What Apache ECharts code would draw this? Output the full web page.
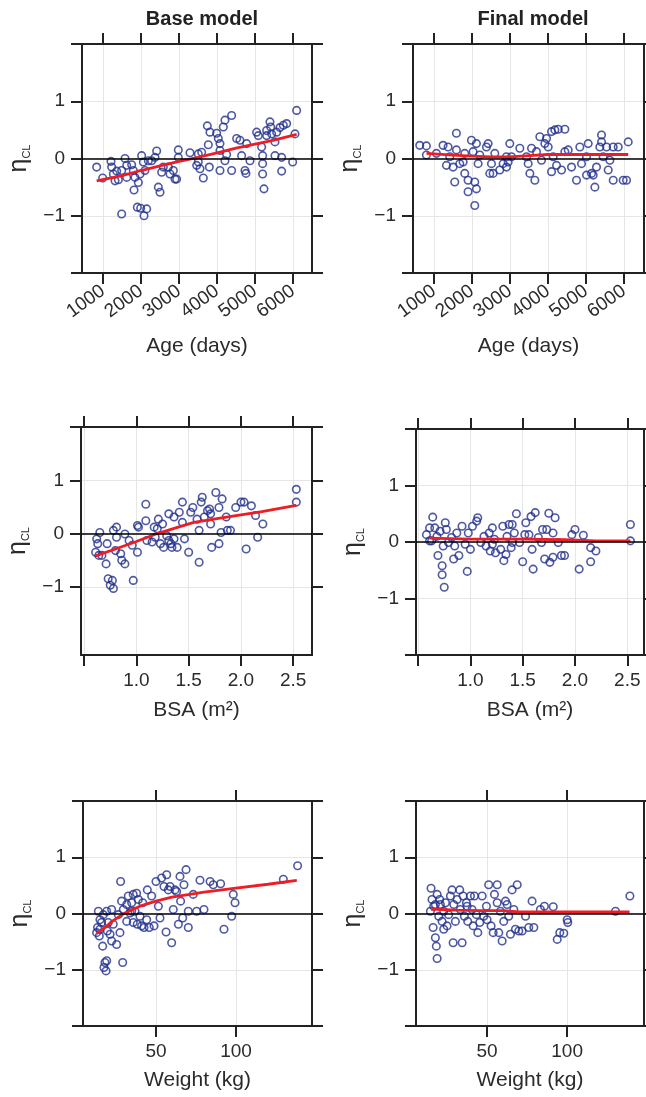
<!DOCTYPE html>
<html><head><meta charset="utf-8">
<script src="https://cdn.jsdelivr.net/npm/echarts@6/dist/echarts.min.js"></script>
<style>html,body{margin:0;padding:0;background:#fff}#c{width:646px;height:1097px}</style>
</head><body><div id="c"></div>
<script>
// ---- data ----
const ageBase = [[833,-0.15],[991,-0.34],[1210,-0.05],[1228,-0.15],[1272,-0.27],[1316,-0.39],[1404,-0.37],[1491,-0.21],[1579,0.0],[1623,-0.12],[1754,-0.11],[1798,-0.21],[1842,-0.33],[1816,-0.55],[1930,-0.42],[2017,0.05],[2061,-0.06],[2105,-0.21],[1974,-0.27],[1903,-0.85],[1991,-0.87],[2079,-1.0],[2149,-0.88],[1491,-0.97],[2193,-0.04],[2281,-0.04],[2412,0.13],[2368,0.02],[2456,-0.50],[2500,-0.59],[2544,-0.24],[2719,-0.15],[2851,-0.21],[2895,-0.36],[2938,-0.36],[2982,0.15],[2982,0.02],[2763,-0.27],[3289,0.10],[3508,0.08],[3508,-0.06],[3552,-0.18],[3640,-0.34],[3596,0.11],[3771,0.24],[3745,0.57],[3815,0.46],[3798,-0.15],[3991,0.44],[4034,0.35],[4078,0.26],[4078,-0.21],[4166,0.55],[4209,0.67],[4385,0.75],[4078,0.14],[4209,-0.04],[4253,0.07],[4385,-0.21],[4517,0.35],[4604,0.32],[4648,0.05],[4736,-0.21],[4762,-0.26],[4868,-0.04],[4780,0.26],[5043,0.46],[5087,0.40],[5175,0.20],[5201,0.05],[5201,-0.09],[5201,-0.27],[5236,-0.53],[5306,0.40],[5394,0.64],[5412,0.55],[5438,0.43],[5526,0.29],[5570,0.46],[5657,0.54],[5745,0.58],[5833,0.61],[5701,0.02],[5701,-0.22],[5526,0.05],[5991,-0.06],[6052,0.43],[6096,0.84],[5306,0.49],[3465,-0.12],[2587,-0.15],[1360,-0.22],[1623,-0.33]];
const ageBaseFit = [[833,-0.39],[1500,-0.30],[2000,-0.21],[2500,-0.13],[3000,-0.05],[3500,0.02],[4000,0.10],[4500,0.18],[5000,0.25],[5500,0.32],[6096,0.42]];

const ageFinal = [[622,0.23],[798,0.22],[1062,0.09],[1237,0.23],[1325,-0.12],[1369,0.20],[1545,-0.41],[1589,0.44],[1589,0.15],[1677,-0.09],[1808,0.09],[1808,-0.26],[1896,-0.58],[1984,0.32],[2028,0.12],[2072,-0.41],[2116,-0.53],[2072,-0.82],[2116,0.26],[2160,-0.09],[2204,0.06],[2380,0.20],[2424,0.26],[2468,-0.26],[2512,-0.09],[2600,0.09],[2731,-0.20],[2819,-0.09],[2907,-0.15],[2951,-0.06],[2995,0.26],[3039,0.03],[3259,0.18],[3479,-0.09],[3523,-0.26],[3567,0.18],[3655,-0.38],[3698,0.12],[3786,0.38],[3830,-0.03],[3918,0.26],[3962,0.35],[4006,0.20],[4094,0.47],[4182,0.50],[4270,0.51],[4094,-0.23],[4138,0.03],[4226,-0.12],[4358,-0.20],[4445,0.51],[4533,0.15],[4621,-0.15],[4752,-0.38],[4840,0.20],[4884,-0.09],[5016,0.03],[5060,0.26],[5148,-0.26],[5236,-0.50],[5279,-0.15],[5367,0.20],[5411,0.41],[5411,0.29],[5455,0.03],[5543,0.20],[5587,-0.20],[5719,0.20],[5719,-0.38],[5851,0.20],[5982,-0.38],[6070,-0.38],[6114,0.29],[798,0.06],[1413,0.03],[1765,-0.06],[2907,0.03],[2556,-0.26],[3435,0.03],[4445,0.12],[5016,-0.29],[5192,-0.29],[5631,-0.03],[1501,-0.15],[1896,-0.38]];
const ageFinalFit = [[800,0.09],[1500,0.06],[2000,0.04],[2500,0.03],[3000,0.03],[3500,0.05],[4000,0.07],[4500,0.07],[5000,0.07],[5500,0.07],[6114,0.07]];

const bsaBase = [[0.61,-0.35],[0.62,-0.10],[0.63,-0.19],[0.64,-0.41],[0.65,0.02],[0.67,-0.41],[0.71,-0.57],[0.72,-0.19],[0.73,-0.85],[0.75,-0.97],[0.77,-0.88],[0.78,-1.03],[0.78,0.06],[0.80,-0.32],[0.81,-0.07],[0.85,-0.38],[0.86,-0.50],[0.89,-0.57],[0.89,-0.01],[0.93,-0.13],[0.96,-0.22],[0.97,-0.88],[1.01,0.15],[1.01,-0.35],[1.02,0.12],[1.09,0.55],[1.09,0.24],[1.10,-0.13],[1.15,-0.16],[1.17,0.12],[1.18,-0.07],[1.21,0.27],[1.23,-0.19],[1.25,0.18],[1.26,-0.26],[1.29,-0.04],[1.31,0.37],[1.33,-0.19],[1.34,-0.26],[1.36,0.31],[1.39,-0.26],[1.41,0.40],[1.44,0.21],[1.44,0.59],[1.46,-0.10],[1.50,-0.35],[1.52,0.40],[1.54,0.49],[1.58,0.27],[1.60,0.06],[1.60,-0.54],[1.62,0.59],[1.63,0.68],[1.65,0.31],[1.70,0.46],[1.71,0.37],[1.72,-0.26],[1.71,0.18],[1.76,0.77],[1.79,0.49],[1.79,-0.19],[1.81,0.02],[1.82,0.65],[1.86,0.31],[1.87,0.06],[1.90,0.06],[1.95,0.49],[2.00,0.59],[2.03,0.59],[2.05,-0.29],[2.10,0.52],[2.14,0.34],[2.16,-0.07],[2.21,0.18],[2.53,0.83],[2.53,0.59],[0.81,0.12],[1.68,0.43],[1.36,-0.10],[1.20,0.09],[1.31,-0.13]];
const bsaBaseFit = [[0.61,-0.42],[0.8,-0.29],[1.0,-0.15],[1.2,0.0],[1.4,0.12],[1.55,0.21],[1.8,0.29],[2.0,0.35],[2.2,0.41],[2.53,0.53]];

const bsaFinal = [[0.58,0.13],[0.61,0.25],[0.64,0.44],[0.63,0.02],[0.66,0.25],[0.68,0.10],[0.69,-0.24],[0.71,0.19],[0.73,-0.42],[0.73,-0.58],[0.74,-0.07],[0.75,-0.80],[0.76,0.34],[0.77,0.22],[0.79,-0.01],[0.82,0.08],[0.84,-0.30],[0.85,-0.07],[0.87,0.16],[0.89,-0.24],[0.92,0.28],[0.95,-0.04],[0.97,-0.52],[0.98,0.16],[1.00,-0.13],[1.02,0.28],[1.06,0.37],[1.07,0.43],[1.10,-0.01],[1.13,0.10],[1.15,-0.07],[1.18,0.16],[1.19,-0.16],[1.21,0.25],[1.23,0.05],[1.24,-0.19],[1.29,-0.13],[1.31,0.28],[1.32,-0.33],[1.34,-0.22],[1.35,0.10],[1.37,0.31],[1.39,-0.10],[1.40,0.31],[1.42,0.16],[1.44,0.50],[1.47,-0.01],[1.50,-0.35],[1.52,0.13],[1.53,0.34],[1.56,0.13],[1.58,0.45],[1.59,-0.13],[1.60,-0.48],[1.62,0.52],[1.65,0.08],[1.68,-0.01],[1.69,0.22],[1.71,-0.30],[1.73,0.22],[1.75,0.51],[1.76,-0.36],[1.79,-0.27],[1.81,0.43],[1.84,-0.01],[1.87,-0.24],[1.90,-0.24],[1.97,0.13],[2.00,0.22],[2.04,-0.48],[2.08,0.12],[2.15,-0.10],[2.15,-0.35],[2.20,-0.16],[2.53,0.31],[2.53,0.02],[0.61,0.02],[1.40,-0.01],[1.21,-0.04],[1.79,0.16]];
const bsaFinalFit = [[0.61,0.07],[1.0,0.05],[1.5,0.05],[1.9,0.04],[2.2,0.02],[2.53,0.02]];

const wtBase = [[12.9,-0.34],[13.5,-0.25],[14,0.04],[14.6,-0.40],[15,-0.11],[16,-0.16],[16.7,-0.58],[17.1,-0.02],[17.5,-0.96],[18.1,-0.87],[18.8,-1.02],[19.2,-0.84],[19.2,0.04],[19.6,-0.31],[20.2,-0.16],[21.3,-0.37],[22.3,0.07],[22.3,-0.49],[23.3,-0.19],[25.4,-0.55],[26.5,-0.02],[27.5,-0.34],[27.9,0.57],[29.2,-0.87],[28.5,0.22],[29.6,0.07],[31.7,-0.14],[32.7,0.31],[33.8,0.01],[34.8,0.19],[35.8,-0.16],[36.9,0.04],[37.9,0.36],[38.3,-0.19],[39,0.25],[40,-0.05],[41,-0.22],[41.7,0.19],[42.5,-0.25],[44.2,-0.11],[44.6,0.42],[45.8,-0.25],[47.3,0.31],[48.8,-0.22],[50,0.57],[51.5,0.13],[52.5,-0.08],[53.5,0.63],[55,0.48],[56.3,-0.33],[56.7,0.69],[57.7,0.42],[58.8,0.48],[59.8,-0.52],[60.8,0.07],[61.9,0.42],[62.9,0.39],[64,-0.19],[65,0.66],[65.4,0.22],[66.7,-0.08],[67.5,0.51],[68.8,0.78],[70.2,0.04],[70.2,-0.25],[73.3,0.34],[75.4,0.04],[77.5,0.59],[80,0.07],[83.8,0.57],[85.8,0.51],[90.4,0.53],[92.5,-0.28],[97.3,-0.05],[98.3,0.34],[99.4,0.19],[129.6,0.61],[138.5,0.85],[35.8,0.34],[34.8,0.04],[31.7,0.16],[15,-0.28]];
const wtBaseFit = [[12.9,-0.36],[18,-0.25],[23,-0.13],[30,0.0],[40,0.13],[50,0.22],[60,0.29],[80,0.38],[100,0.45],[120,0.52],[138,0.59]];

const wtFinal = [[14.6,0.04],[15,0.45],[15.6,0.25],[16.3,-0.25],[16.7,0.13],[17.7,-0.43],[18.3,-0.58],[18.8,-0.80],[18.8,0.34],[19.8,-0.05],[20.4,0.25],[21.9,-0.14],[22.9,-0.28],[24,0.19],[25,-0.22],[26,-0.02],[27.1,0.31],[28.1,0.42],[28.8,-0.52],[29.2,0.16],[30.2,-0.14],[31.3,0.25],[32.9,0.42],[33.3,0.07],[34.4,-0.52],[35,0.31],[35.8,-0.05],[37.1,0.19],[37.9,-0.14],[39.6,0.31],[40.6,0.07],[41.3,-0.22],[42.1,0.31],[43.3,-0.02],[44.2,-0.34],[45.4,-0.16],[46.9,0.31],[47.9,-0.05],[49.6,0.13],[51,0.51],[52.5,-0.22],[53.8,-0.34],[54.6,0.34],[56.3,0.51],[57.3,-0.34],[58.3,0.04],[59.4,-0.49],[60.4,-0.14],[61.5,0.22],[62.5,0.16],[63.5,-0.05],[64.6,-0.37],[65.6,0.42],[66.7,0.07],[67.7,-0.28],[68.8,0.51],[69.8,-0.31],[71.9,-0.31],[74,-0.05],[76,-0.25],[78.1,0.22],[79.2,-0.25],[83.3,0.07],[85.8,0.13],[91.3,0.12],[93.8,-0.46],[95.4,-0.34],[97.9,-0.35],[100,-0.11],[100.4,-0.16],[130.2,0.04],[139.2,0.31],[20.8,0.16],[22.9,0.04],[37.5,0.13],[50,-0.11],[56.3,0.19],[17.7,0.16]];
const wtFinalFit = [[15,0.08],[30,0.06],[45,0.05],[60,0.05],[70,0.03],[100,0.03],[139,0.03]];

const ageTicks = [1000,2000,3000,4000,5000,6000];
const bsaTicks = [0.5,1.0,1.5,2.0,2.5];
const bsaLabels = [1.0,1.5,2.0,2.5];
const wtTicks = [50,100];
const etaTicks = [-2,-1,0,1,2];
const etaTicksShort = [-1,0,1,2];
const etaLabels = [-1,0,1];
const columnTitles = ['Base model','Final model'];
const xNames = ['Age (days)','BSA (m\u00b2)','Weight (kg)'];

// ---- styling / layout ----
const FONT = "'Liberation Sans', Arial, Helvetica, sans-serif";
const INK = '#222222';
const LABEL = '#2b2b2b';
const NAVY = '#22308d';
const RED = '#ee1c24';
const GRID = '#e6e6e6';
const minus = v => (v < 0 ? '\u2212' + (-v) : String(v));

const panels = [
  {g:{left:82,top:44,width:230,height:229}, x:[447,6500], y:[-2,2], xt:ageTicks, xl:ageTicks, yt:etaTicks, name:xNames[0], gap:63, rot:36, fmt:v=>String(v), pts:ageBase, fit:ageBaseFit},
  {g:{left:413,top:44,width:231,height:229}, x:[445,6530], y:[-2,2], xt:ageTicks, xl:ageTicks, yt:etaTicks, name:xNames[0], gap:63, rot:36, fmt:v=>String(v), pts:ageFinal, fit:ageFinalFit},
  {g:{left:81,top:427,width:231,height:228}, x:[0.47,2.68], y:[-2.28,2], xt:bsaTicks, xl:bsaLabels, yt:etaTicksShort, name:xNames[1], gap:45, rot:0, fmt:v=>v.toFixed(1), pts:bsaBase, fit:bsaBaseFit},
  {g:{left:416,top:429,width:228,height:226}, x:[0.48,2.66], y:[-2,2], xt:bsaTicks, xl:bsaLabels, yt:etaTicks, name:xNames[1], gap:45, rot:0, fmt:v=>v.toFixed(1), pts:bsaFinal, fit:bsaFinalFit},
  {g:{left:83,top:801,width:229,height:225}, x:[4.4,147.5], y:[-2,2], xt:wtTicks, xl:wtTicks, yt:etaTicks, name:xNames[2], gap:44, rot:0, fmt:v=>String(v), pts:wtBase, fit:wtBaseFit},
  {g:{left:416,top:801,width:228,height:225}, x:[5.6,148], y:[-2,2], xt:wtTicks, xl:wtTicks, yt:etaTicks, name:xNames[2], gap:44, rot:0, fmt:v=>String(v), pts:wtFinal, fit:wtFinalFit}
];

const frameLine = {onZero:false, lineStyle:{color:INK, width:2}};
const tickStyle = {color:INK, width:2};
const grid = [], xAxis = [], yAxis = [], series = [];

panels.forEach((p, i) => {
  grid.push(Object.assign({containLabel:false}, p.g));
  xAxis.push({
    type:'value', gridIndex:i, position:'bottom', min:p.x[0], max:p.x[1],
    axisLine:frameLine,
    axisTick:{show:true, customValues:p.xt, length:11, lineStyle:tickStyle},
    axisLabel:{customValues:p.xl, rotate:p.rot, margin:16, fontSize:19, color:LABEL, fontFamily:FONT, formatter:p.fmt},
    splitLine:{show:true, lineStyle:{color:GRID, width:1}},
    name:p.name, nameLocation:'middle', nameGap:p.gap,
    nameTextStyle:{fontSize:21, color:LABEL, fontFamily:FONT}
  });
  xAxis.push({
    type:'value', gridIndex:i, position:'top', min:p.x[0], max:p.x[1],
    axisLine:frameLine,
    axisTick:{show:true, customValues:p.xt, length:11, lineStyle:tickStyle},
    axisLabel:{show:false}, splitLine:{show:false}
  });
  yAxis.push({
    type:'value', gridIndex:i, position:'left', min:p.y[0], max:p.y[1],
    axisLine:frameLine,
    axisTick:{show:true, customValues:p.yt, length:11, lineStyle:tickStyle},
    axisLabel:{customValues:etaLabels, margin:17, fontSize:19, color:LABEL, fontFamily:FONT, formatter:minus},
    splitLine:{show:true, lineStyle:{color:GRID, width:1}},
    name:'{e|\u03b7}{s|CL}', nameLocation:'middle', nameGap:50,
    nameTextStyle:{color:LABEL, fontFamily:FONT, rich:{
      e:{fontSize:25, color:LABEL, fontFamily:FONT},
      s:{fontSize:11, color:LABEL, fontFamily:FONT, verticalAlign:'bottom', padding:[10,0,0,0]}
    }}
  });
  yAxis.push({
    type:'value', gridIndex:i, position:'right', min:p.y[0], max:p.y[1],
    axisLine:frameLine,
    axisTick:{show:true, customValues:p.yt, length:11, lineStyle:tickStyle},
    axisLabel:{show:false}, splitLine:{show:false}
  });
  series.push({
    type:'scatter', xAxisIndex:2*i, yAxisIndex:2*i, data:p.pts,
    symbol:'circle', symbolSize:7.5,
    itemStyle:{color:'rgba(0,0,0,0)', borderColor:NAVY, borderWidth:1.6},
    z:3, silent:true,
    markLine:{silent:true, symbol:'none', label:{show:false}, animation:false,
      lineStyle:{color:'#000', width:1.5, type:'solid'}, data:[{yAxis:0}]}
  });
  series.push({
    type:'line', xAxisIndex:2*i, yAxisIndex:2*i, data:p.fit,
    showSymbol:false, symbol:'none', smooth:false,
    lineStyle:{color:RED, width:2.8}, z:4, silent:true
  });
});

const chart = echarts.init(document.getElementById('c'), null, {renderer:'canvas'});
chart.setOption({
  animation:false,
  backgroundColor:'#ffffff',
  title:[
    {text:columnTitles[0], left:197, top:4, textAlign:'center', textStyle:{fontSize:20, fontWeight:'bold', color:'#222', fontFamily:FONT}},
    {text:columnTitles[1], left:528, top:4, textAlign:'center', textStyle:{fontSize:20, fontWeight:'bold', color:'#222', fontFamily:FONT}}
  ],
  grid, xAxis, yAxis, series
});
</script></body></html>
